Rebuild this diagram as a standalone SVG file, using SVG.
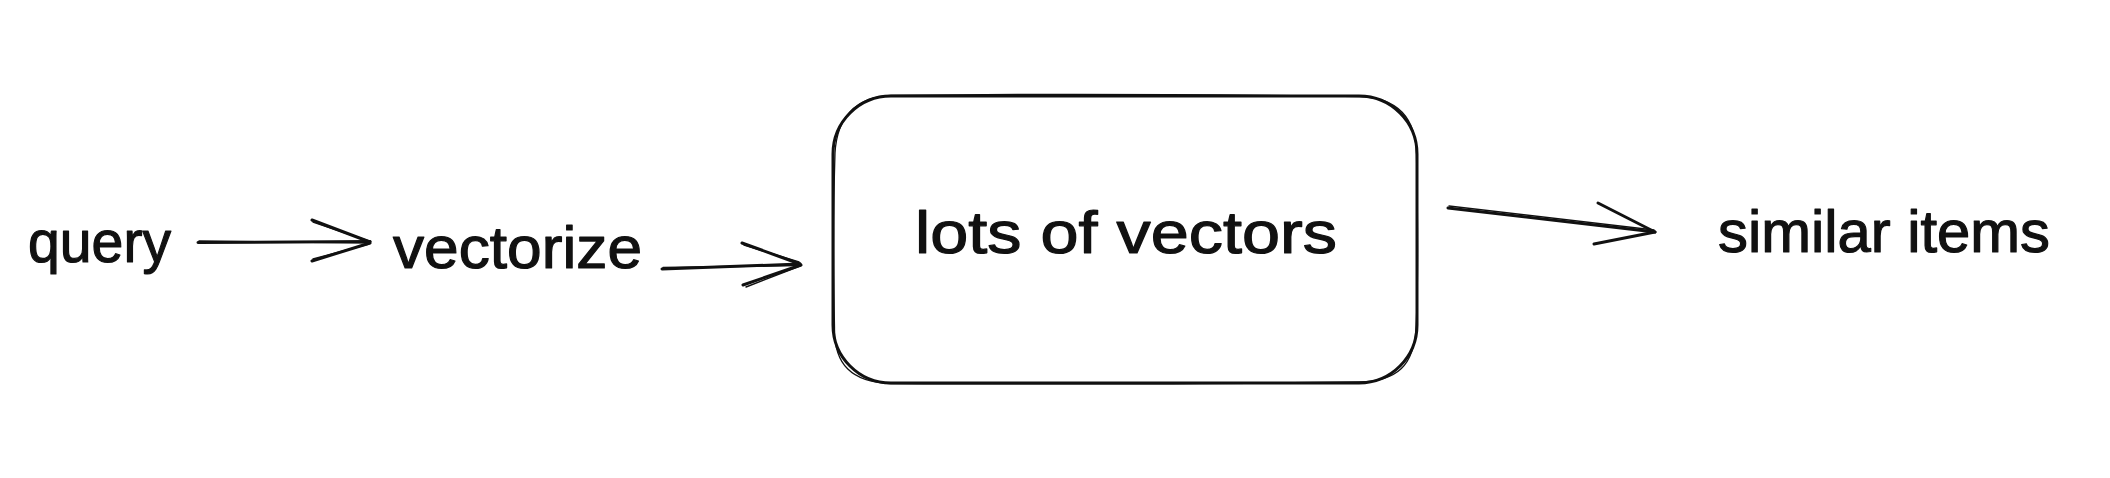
<svg xmlns="http://www.w3.org/2000/svg" width="2110" height="478" viewBox="0 0 2110 478">
  <style>
    .lbl { font-family: "Liberation Sans", Arial, sans-serif; font-size: 60px; fill: #111111; stroke: #111111; stroke-width: 1.2; stroke-linejoin: round; }
    .edge { fill: none; stroke: #111111; stroke-width: 3; stroke-linecap: round; stroke-linejoin: round; }
    .edge2 { fill: none; stroke: #111111; stroke-width: 1.4; stroke-linecap: round; }
    .box { fill: #ffffff; stroke: #111111; stroke-width: 3; }
    .box2 { fill: none; stroke: #111111; stroke-width: 1.3; }
  </style>
  <rect width="2110" height="478" fill="#ffffff"/>

  <g id="node-query">
    <text class="lbl" x="28" y="262" textLength="143" lengthAdjust="spacingAndGlyphs">query</text>
  </g>

  <g id="node-vectorize">
    <text class="lbl" x="393" y="268" textLength="249" lengthAdjust="spacingAndGlyphs">vectorize</text>
  </g>

  <g id="node-lots-of-vectors">
    <rect class="box" x="833" y="96" width="584" height="287" rx="58" ry="58"/>
    <path class="box2" d="M891,95.5 C1050,93.5 1250,95 1360,96.5 C1398,98 1416,118 1416.5,155 C1418,230 1417.5,300 1416,328 C1414,365 1398,381 1359,382 C1200,384.5 1000,384 890,383.5 C852,382 834,365 834.5,328 C833,250 833.5,200 835,153 C837,118 855,97 891,95.5 Z"/>
    <text class="lbl" x="915" y="253" textLength="422" lengthAdjust="spacingAndGlyphs">lots of vectors</text>
  </g>

  <g id="node-similar-items">
    <text class="lbl" x="1718" y="252" textLength="332" lengthAdjust="spacingAndGlyphs">similar items</text>
  </g>

  <g id="connectors">
    <g id="edge-query-vectorize">
      <path class="edge" d="M198,242.5 L370,241.5"/>
      <path class="edge2" d="M199,241 L369,243"/>
      <path class="edge" d="M312,220 L370,242 M312,261 L370,243"/>
      <path class="edge2" d="M313,222 L369,241 M313,259 L369,244"/>
    </g>
    <g id="edge-vectorize-box">
      <path class="edge" d="M662,269 L800,264"/>
      <path class="edge2" d="M663,267.5 L801,265.5"/>
      <path class="edge" d="M742,243 L800,264 M743,285 L801,265"/>
      <path class="edge2" d="M744,245 L799,262 M746,287 L800,266"/>
    </g>
    <g id="edge-box-similar">
      <path class="edge" d="M1448,208 L1655,232"/>
      <path class="edge2" d="M1449,206 L1654,230"/>
      <path class="edge" d="M1598,203 L1655,232 M1594,244 L1655,232"/>
    </g>
  </g>
</svg>
